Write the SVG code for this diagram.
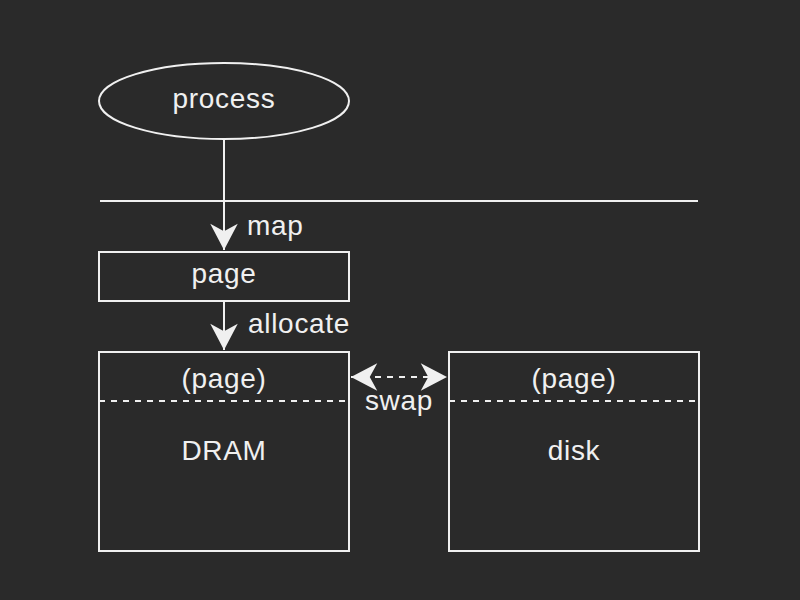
<svg xmlns="http://www.w3.org/2000/svg" width="800" height="600" viewBox="0 0 800 600">
<defs>
<style>
.shape{fill:none;stroke:#f0f0f0;stroke-width:2}
.line{fill:none;stroke:#f0f0f0;stroke-width:2}
.dash{stroke-dasharray:6 6}
text{font-family:"Liberation Sans",Arial,sans-serif;font-size:28px;letter-spacing:0.7px;fill:#f0f0f0;text-anchor:middle}
text.lbl{text-anchor:start}
</style>
<marker id="arr" markerUnits="userSpaceOnUse" markerWidth="30" markerHeight="30" viewBox="-22 -12 24 24" refX="0" refY="0" orient="auto-start-reverse">
<path d="M0,0 L-21,-11 L-15,0 L-21,11 Z" fill="#f0f0f0"/>
</marker>
</defs>
<rect width="800" height="600" fill="#2a2a2a"/>
<g id="connectors">
<line class="line" x1="100" y1="201" x2="698" y2="201"/>
<line class="line" x1="224" y1="139" x2="224" y2="250" marker-end="url(#arr)"/>
<text class="lbl" x="247" y="235">map</text>
<line class="line" x1="224" y1="302" x2="224" y2="350" marker-end="url(#arr)"/>
<text class="lbl" x="248" y="333">allocate</text>
<line class="line dash" x1="351" y1="377" x2="447" y2="377" marker-start="url(#arr)" marker-end="url(#arr)"/>
<text x="399" y="410">swap</text>
</g>
<g id="process">
<ellipse class="shape" cx="224" cy="101" rx="125" ry="38"/>
<text x="224" y="108">process</text>
</g>
<g id="page">
<rect class="shape" x="99" y="252" width="250" height="49"/>
<text x="224" y="283">page</text>
</g>
<g id="dram">
<rect class="shape" x="99" y="352" width="250" height="199"/>
<line class="line dash" x1="99" y1="401" x2="349" y2="401"/>
<text x="224" y="388">(page)</text>
<text x="224" y="460">DRAM</text>
</g>
<g id="disk">
<rect class="shape" x="449" y="352" width="250" height="199"/>
<line class="line dash" x1="449" y1="401" x2="699" y2="401"/>
<text x="574" y="388">(page)</text>
<text x="574" y="460">disk</text>
</g>
</svg>
